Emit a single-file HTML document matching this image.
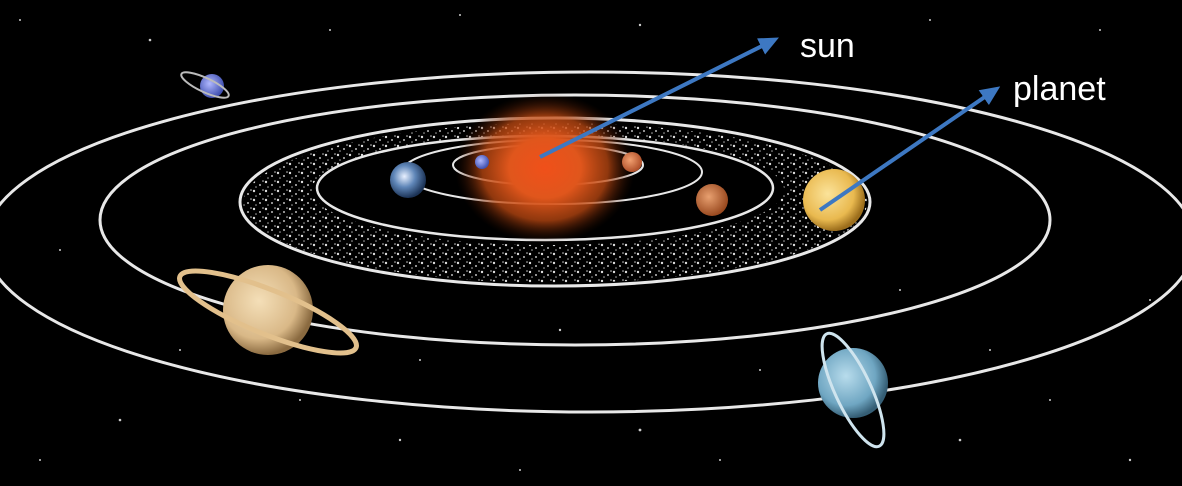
<!DOCTYPE html>
<html><head><meta charset="utf-8"><style>
html,body{margin:0;padding:0;background:#000;}
svg{display:block;}
text{font-family:"Liberation Sans",sans-serif;fill:#fff;}
</style></head><body>
<svg width="1182" height="486" viewBox="0 0 1182 486">
<defs>
<radialGradient id="sunG" cx="50%" cy="50%" r="50%">
<stop offset="0" stop-color="#f0501a"/><stop offset="0.4" stop-color="#e0561c"/><stop offset="0.7" stop-color="#c04a12" stop-opacity="0.75"/><stop offset="1" stop-color="#3a1000" stop-opacity="0"/>
</radialGradient>
<radialGradient id="earthG" cx="40%" cy="40%" r="60%"><stop offset="0" stop-color="#e8f0ff"/><stop offset="0.5" stop-color="#5f86b8"/><stop offset="1" stop-color="#1c3356"/></radialGradient>
<radialGradient id="jupG" cx="40%" cy="40%" r="60%"><stop offset="0" stop-color="#fbe39a"/><stop offset="0.7" stop-color="#e9b94f"/><stop offset="1" stop-color="#9c6e1c"/></radialGradient>
<radialGradient id="satG" cx="40%" cy="40%" r="60%"><stop offset="0" stop-color="#f4dfb8"/><stop offset="0.7" stop-color="#d9b887"/><stop offset="1" stop-color="#8a6a40"/></radialGradient>
<radialGradient id="uraG" cx="40%" cy="40%" r="60%"><stop offset="0" stop-color="#b8dcec"/><stop offset="0.7" stop-color="#6fa6c2"/><stop offset="1" stop-color="#355e75"/></radialGradient>
<radialGradient id="marsG" cx="40%" cy="40%" r="60%"><stop offset="0" stop-color="#e8a070"/><stop offset="1" stop-color="#9a4a20"/></radialGradient>
<radialGradient id="venG" cx="40%" cy="40%" r="60%"><stop offset="0" stop-color="#f2a070"/><stop offset="1" stop-color="#b0502a"/></radialGradient>
<radialGradient id="nepG" cx="40%" cy="40%" r="60%"><stop offset="0" stop-color="#b0b8ff"/><stop offset="1" stop-color="#4050b0"/></radialGradient>
<pattern id="belt" width="12" height="9" patternUnits="userSpaceOnUse">
<circle cx="2" cy="2" r="1.2" fill="#ddd"/><circle cx="8" cy="5" r="1" fill="#bbb"/><circle cx="4" cy="7" r="0.8" fill="#aaa"/><circle cx="11" cy="1" r="0.8" fill="#ccc"/>
</pattern>
<mask id="beltMask"><rect width="1182" height="486" fill="#000"/>
<ellipse cx="555" cy="203" rx="312" ry="80" fill="#fff"/><ellipse cx="548" cy="190" rx="236" ry="55" fill="#000"/></mask>
<marker id="arr" markerWidth="20" markerHeight="18" refX="10" refY="9" orient="auto" markerUnits="userSpaceOnUse" viewBox="0 0 20 18"><path d="M0,0 L20,9 L0,18 z" fill="#3d78c2"/></marker>
</defs>
<rect width="1182" height="486" fill="#000"/>
<g fill="#ccc">
<circle cx="20" cy="20" r="1"/><circle cx="150" cy="40" r="1.3"/><circle cx="330" cy="30" r="1"/><circle cx="460" cy="15" r="1"/><circle cx="640" cy="25" r="1.2"/><circle cx="930" cy="20" r="1"/><circle cx="1100" cy="30" r="1"/><circle cx="60" cy="250" r="1"/><circle cx="120" cy="420" r="1.3"/><circle cx="40" cy="460" r="1"/><circle cx="400" cy="440" r="1.2"/><circle cx="520" cy="470" r="1"/><circle cx="640" cy="430" r="1.4"/><circle cx="720" cy="460" r="1"/><circle cx="960" cy="440" r="1.3"/><circle cx="1050" cy="400" r="1"/><circle cx="1130" cy="460" r="1.2"/><circle cx="1150" cy="300" r="1"/><circle cx="990" cy="350" r="1"/><circle cx="420" cy="360" r="1"/><circle cx="560" cy="330" r="1.2"/><circle cx="760" cy="370" r="1"/><circle cx="300" cy="400" r="1"/><circle cx="180" cy="350" r="1"/><circle cx="900" cy="290" r="1"/>
</g>
<g fill="none" stroke="#e8e8e8" stroke-width="3">
<ellipse cx="590" cy="242" rx="605" ry="170"/>
<ellipse cx="575" cy="220" rx="475" ry="125"/>
<ellipse cx="555" cy="202" rx="315" ry="84"/>
<ellipse cx="545" cy="188" rx="228" ry="52" stroke-width="2.5"/>
<ellipse cx="552" cy="172" rx="150" ry="32" stroke-width="2"/>
<ellipse cx="548" cy="165" rx="95" ry="20" stroke-width="2"/>
</g>
<rect width="1182" height="486" fill="url(#belt)" mask="url(#beltMask)"/>
<ellipse cx="545" cy="168" rx="90" ry="75" fill="url(#sunG)"/>
<circle cx="482" cy="162" r="7" fill="url(#nepG)"/>
<circle cx="632" cy="162" r="10" fill="url(#venG)"/>
<circle cx="408" cy="180" r="18" fill="url(#earthG)"/>
<circle cx="712" cy="200" r="16" fill="url(#marsG)"/>
<circle cx="834" cy="200" r="31" fill="url(#jupG)"/>
<g>
<circle cx="268" cy="310" r="45" fill="url(#satG)"/>
<ellipse cx="268" cy="312" rx="95" ry="22" transform="rotate(22 268 312)" fill="none" stroke="#e2c08c" stroke-width="5"/>
</g>
<g>
<circle cx="853" cy="383" r="35" fill="url(#uraG)"/>
<ellipse cx="853" cy="390" rx="18" ry="62" transform="rotate(-25 853 390)" fill="none" stroke="#cfe4ee" stroke-width="3"/>
</g>
<g>
<circle cx="212" cy="86" r="12" fill="url(#nepG)"/>
<ellipse cx="205" cy="85" rx="26" ry="7" transform="rotate(25 205 85)" fill="none" stroke="#bbb" stroke-width="2"/>
</g>
<line x1="540" y1="157" x2="770" y2="42" stroke="#3d78c2" stroke-width="4" marker-end="url(#arr)"/>
<line x1="820" y1="210" x2="992" y2="92" stroke="#3d78c2" stroke-width="4" marker-end="url(#arr)"/>
<text x="800" y="57" font-size="34">sun</text>
<text x="1013" y="100" font-size="34">planet</text>
</svg>
</body></html>
